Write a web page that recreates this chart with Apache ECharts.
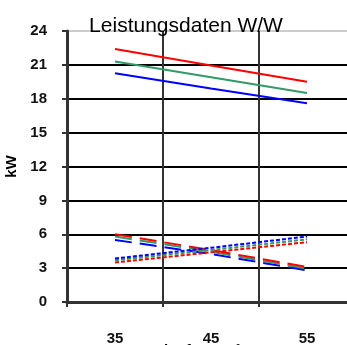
<!DOCTYPE html>
<html><head><meta charset="utf-8">
<script src="https://cdn.jsdelivr.net/npm/echarts@6/dist/echarts.min.js"></script>
<style>html,body{margin:0;padding:0;background:#fff}#c{width:347px;height:345px}</style>
</head><body><div id="c"></div>
<script>
var categories = ['35', '45', '55'];
var yTicks = [0, 3, 6, 9, 12, 15, 18, 21, 24];
// Heizleistung (solid)
var heatRed = [22.4, 20.95, 19.5];
var heatGreen = [21.3, 19.9, 18.5];
var heatBlue = [20.25, 18.9, 17.6];
// Kälteleistung (long dash)
var coolRed = [6.0, 4.6, 3.1];
var coolGreen = [5.8, 4.45, 2.95];
var coolBlue = [5.5, 4.25, 2.8];
// Leistungsaufnahme (short dash)
var powRed = [3.5, 4.4, 5.3];
var powGreen = [3.7, 4.6, 5.55];
var powBlue = [3.85, 4.8, 5.8];

var RED = '#ff0000', GREEN = '#339966', BLUE = '#0000ff';
var FONT = '"Liberation Sans", Arial, sans-serif';
function s(data, color, type) {
  return {type: 'line', data: data, symbol: 'none', silent: true,
    lineStyle: {color: color, width: 2, type: type}};
}
var chart = echarts.init(document.getElementById('c'));
chart.setOption({
  animation: false,
  title: {text: 'Leistungsdaten W/W', left: 181, textAlign: 'center', top: 11,
    textStyle: {fontFamily: FONT, fontSize: 21, fontWeight: 'normal', color: '#000'}},
  grid: {left: 67, top: 31, width: 288, height: 271, containLabel: false, outerBoundsMode: 'none'},
  xAxis: {type: 'category', data: categories, boundaryGap: true,
    name: 'Vorlauftemp. °C', nameLocation: 'middle', nameGap: 41, nameMoveOverlap: false,
    nameTextStyle: {fontFamily: FONT, fontSize: 15, fontWeight: 'bold', color: '#000', padding: [0, 30, 0, 0]},
    axisLine: {lineStyle: {color: '#333', width: 3}},
    axisTick: {show: true, length: 5, lineStyle: {color: '#333', width: 2}},
    axisLabel: {margin: 29, fontFamily: FONT, fontSize: 15, fontWeight: 'bold', color: '#111'},
    splitLine: {show: true, lineStyle: {color: '#333', width: 2}}},
  yAxis: {type: 'value', min: 0, max: 24, interval: 3,
    name: 'kW', nameLocation: 'middle', nameGap: 48, nameRotate: 90, nameMoveOverlap: false,
    nameTextStyle: {fontFamily: FONT, fontSize: 15, fontWeight: 'bold', color: '#000'},
    axisLine: {show: true, lineStyle: {color: '#333', width: 3}},
    axisTick: {show: true, length: 5, lineStyle: {color: '#333', width: 2}},
    axisLabel: {margin: 20, fontFamily: FONT, fontSize: 15, fontWeight: 'bold', color: '#111',
      formatter: function (v) { return yTicks.indexOf(v) >= 0 ? String(v) : ''; }},
    splitLine: {show: true, lineStyle: {color: ['#000','#000','#000','#000','#000','#000','#000','#000','#cccccc'], width: 2}}},
  series: [
    s(heatRed, RED, 'solid'), s(heatGreen, GREEN, 'solid'), s(heatBlue, BLUE, 'solid'),
    s(coolBlue, BLUE, [17, 8]), s(coolGreen, GREEN, [17, 8]), s(coolRed, RED, [17, 8]),
    s(powRed, RED, [4, 2]), s(powGreen, GREEN, [4, 2]), s(powBlue, BLUE, [4, 2])
  ]
});
</script></body></html>
